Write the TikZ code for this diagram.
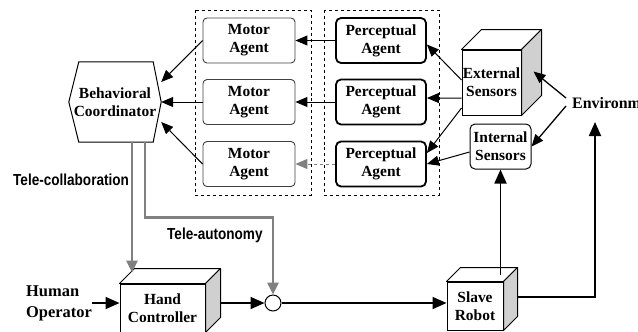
\documentclass[tikz,border=0pt]{standalone}
\usepackage{fontspec}
\setmainfont{Liberation Serif}
\newfontfamily\tagfont[FakeStretch=0.85]{Liberation Sans}
\usepackage{tikz}
\definecolor{sidegray}{RGB}{208, 208, 208}
\definecolor{linkgray}{RGB}{128, 128, 128}
\usetikzlibrary{arrows.meta}
\usetikzlibrary{calc}

% top and right faces of a box drawn as a cube
\newcommand{\cubefaces}[2]{%
	\draw [cubeline, fill=white] (#1.north west) -- ++(#2,-#2) -- ($(#1.north east)+(#2,-#2)$) -- (#1.north east) -- cycle;
	\draw [cubeline, fill=sidegray] (#1.north east) -- ++(#2,-#2) -- ($(#1.south east)+(#2,-#2)$) -- (#1.south east) -- cycle;
}

\begin{document}
\begin{tikzpicture}
				[x=1bp, y=-1bp, every node/.style={inner sep=0pt, align=center, font=\fontsize{15.5}{18}\selectfont\bfseries},
				motor/.style={rectangle, rounded corners=4bp, draw=black!75, line width=0.9bp, minimum width=92bp, minimum height=45bp},
				percept/.style={rectangle, rounded corners=5bp, draw=black, line width=1.8bp, minimum width=90bp, minimum height=45bp},
				sensor/.style={rectangle, rounded corners=5bp, draw=black, line width=1bp, minimum width=61bp, minimum height=45bp},
				cube/.style={rectangle, draw=black, line width=1bp, fill=white},
				cubeline/.style={line width=1bp, draw=black, line join=round},
				tag/.style={font=\tagfont\bfseries\fontsize{16}{18}\selectfont},
				link/.style={line width=1bp, -{Triangle[length=12bp, width=10bp]}},
				flow/.style={line width=1.8bp, -{Triangle[length=14bp, width=12bp]}},
				graylink/.style={line width=2.8bp, color=linkgray, -{Triangle[length=12bp, width=11bp]}}]
				\useasboundingbox (0, 0) rectangle (638, 331);
				% agent groups
				\draw [dashed, line width=0.8bp] (195, 10) rectangle (311, 195);
				\draw [dashed, line width=0.8bp] (324, 10) rectangle (439, 195);
				\node (m1) [motor] at (249, 40.5) {Motor\\Agent};
				\node (m2) [motor] at (249, 102) {Motor\\Agent};
				\node (m3) [motor] at (249, 164) {Motor\\Agent};
				\node (p1) [percept] at (381, 40.5) {Perceptual\\Agent};
				\node (p2) [percept] at (381, 102) {Perceptual\\Agent};
				\node (p3) [percept] at (381, 164) {Perceptual\\Agent};
				% coordinator
				\node (bc) [minimum width=92bp, minimum height=80bp] at (115, 102) {Behavioral\\Coordinator};
				\draw [line width=1bp] ([xshift=10bp]bc.north west) -- ([xshift=-8bp]bc.north east) -- (bc.east) -- ([xshift=-8bp]bc.south east) -- ([xshift=10bp]bc.south west) -- (bc.west) -- cycle;
				% sensors
				\node (ext) [cube, minimum width=59bp, minimum height=65bp] at (491.5, 82.5) {External\\Sensors};
				\cubefaces{ext}{20}
				\node (int) [sensor] at (500.5, 146.5) {Internal\\Sensors};
				\node (env) [anchor=west, inner xsep=6bp, font=\fontsize{16}{18}\selectfont\bfseries] at (566, 103) {Environment};
				\coordinate (envtip) at (595, 122);
				% bottom row
				\node (op) [anchor=west, align=left, font=\fontsize{16.5}{21}\selectfont\bfseries] at (26, 303) {Human\\Operator};
				\node (hc) [cube, minimum width=85bp, minimum height=48bp] at (162.5, 308) {Hand\\Controller};
				\cubefaces{hc}{15}
				\node (sum) [circle, draw=black, line width=1bp, fill=white, minimum size=16bp] at (273, 303) {};
				\node (sr) [cube, minimum width=56bp, minimum height=48bp] at (475, 306) {Slave\\Robot};
				\cubefaces{sr}{14}
				\node (tc) [tag, anchor=west] at (13, 180) {Tele-collaboration};
				\node (ta) [tag, anchor=west] at (167, 235) {Tele-autonomy};
				% agent links
				\draw [link] (p1.west) -- (m1.east);
				\draw [link] (p2.west) -- (m2.east);
				\draw [link, dashed, color=linkgray] (p3.west) -- (m3.east);
				\draw [link] (m1.west) -- ([yshift=20bp]bc.east);
				\draw [link] (m2.west) -- (bc.east);
				\draw [link] (m3.west) -- ([yshift=-20bp]bc.east);
				\draw [link] ([yshift=2.5bp]ext.west) -- ([yshift=-4bp]p1.east);
				\draw [link] ([yshift=-15.5bp]ext.west) -- ([yshift=4bp]p2.east);
				\draw [link] ([yshift=-25.5bp]ext.west) -- ([yshift=11bp]p3.east);
				\draw [link] ([yshift=-5.5bp]int.west) -- (p3.east);
				\draw [link, line width=1.3bp] ([yshift=5bp]env.west) -- ([xshift=12bp, yshift=-22bp]ext.north east);
				\draw [link, line width=1.3bp] ([yshift=-3bp]env.west) -- (int.east);
				% control flow
				\draw [flow] (op.east) -- (op.east -| hc.west);
				\draw [flow] ($(sum -| hc.east)+(15, 0)$) -- (sum);
				\draw [flow] (sum) -- (sum -| sr.west);
				\draw [flow] ($(sr.north -| int.south)+(0, -7)$) -- (int.south);
				\draw [flow] ($(sr.east)+(14, -9)$) -| (envtip);
				\draw [graylink] ($(bc.south)+(17, 0)$) -- ($(hc.north)+(-30.5, -11)$);
				\draw [graylink] ($(bc.south)+(30, 0)$) -- ++(0, 75) -| (sum.north);
		\end{tikzpicture}
\end{document}
